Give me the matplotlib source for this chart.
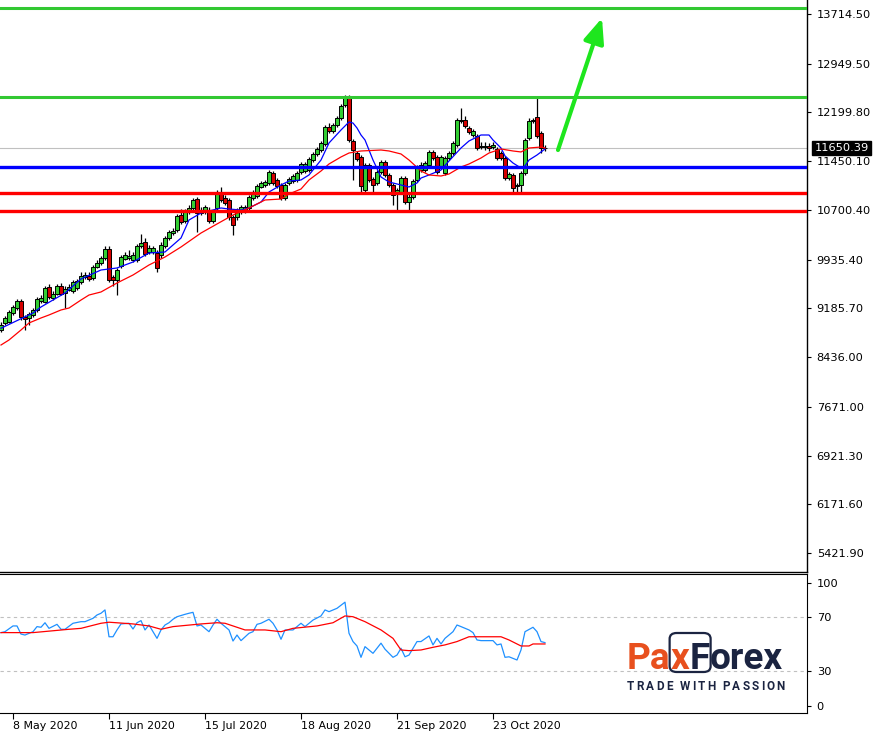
import matplotlib
matplotlib.use("Agg")
import matplotlib.pyplot as plt
from matplotlib.patches import FancyBboxPatch

# daily candles, 5 May 2020 .. 10 Nov 2020 (bar index = position in list)
opens = [8853, 8961, 8976, 9114, 9191, 9299, 9053, 9038, 9084, 9161,
         9299, 9284, 9515, 9345, 9407, 9530, 9422, 9468, 9453, 9499,
         9591, 9668, 9684, 9653, 9822, 9884, 9961, 10099, 9668, 9622,
         9838, 9945, 9961, 9930, 9930, 10145, 10207, 10053, 10053, 10038,
         10007, 10145, 10268, 10345, 10391, 10622, 10530, 10668, 10730, 10868,
         10653, 10668, 10699, 10530, 10730, 10976, 10884, 10853, 10591, 10591,
         10668, 10684, 10730, 10884, 10914, 11053, 11084, 11114, 11268, 11161,
         11084, 10884, 11114, 11145, 11161, 11284, 11299, 11314, 11468, 11561,
         11622, 11715, 11976, 11915, 12007, 12115, 12315, 12438, 11761, 11576,
         11515, 11007, 11391, 11176, 11114, 11284, 11438, 11238, 11084, 10976,
         10976, 11191, 10822, 10899, 11161, 11314, 11314, 11391, 11592, 11515,
         11361, 11268, 11499, 11576, 11699, 12068, 12084, 11961, 11853, 11838,
         11684, 11668, 11684, 11668, 11638, 11576, 11499, 11191, 11238, 11068,
         11084, 11268, 11807, 12068, 12130, 11884, 11653]
highs = [8976, 9068, 9161, 9238, 9330, 9330, 9084, 9130, 9191, 9361,
         9391, 9530, 9561, 9453, 9561, 9576, 9530, 9561, 9622, 9638,
         9745, 9745, 9745, 9853, 9930, 9991, 10145, 10145, 9699, 9807,
         10007, 10053, 10084, 10053, 10176, 10330, 10268, 10161, 10145, 10084,
         10207, 10299, 10391, 10422, 10637, 10714, 10714, 10776, 10884, 10899,
         10745, 10776, 10745, 10699, 11007, 11053, 10930, 10884, 10622, 10730,
         10776, 10776, 10930, 11007, 11099, 11145, 11161, 11314, 11299, 11191,
         11114, 11114, 11207, 11253, 11299, 11438, 11438, 11515, 11592, 11668,
         11761, 12007, 12037, 12037, 12145, 12330, 12468, 12468, 11792, 11607,
         11545, 11422, 11422, 11207, 11314, 11468, 11468, 11268, 11114, 11038,
         11222, 11222, 10945, 11176, 11391, 11438, 11453, 11622, 11622, 11545,
         11545, 11530, 11607, 11761, 12115, 12268, 12145, 11992, 11946, 11868,
         11745, 11745, 11730, 11745, 11668, 11607, 11530, 11284, 11268, 11114,
         11299, 11807, 12115, 12115, 12422, 11915, 11699]
lows = [8822, 8930, 8961, 9084, 9161, 9007, 8853, 8930, 9053, 9130,
        9268, 9268, 9330, 9314, 9391, 9391, 9191, 9453, 9422, 9468,
        9561, 9638, 9607, 9622, 9807, 9853, 9930, 9591, 9530, 9391,
        9807, 9930, 9930, 9899, 9899, 10115, 9991, 10022, 10022, 9745,
        9961, 10115, 10238, 10314, 10361, 10483, 10499, 10637, 10699, 10361,
        10622, 10637, 10499, 10499, 10699, 10822, 10776, 10545, 10314, 10545,
        10637, 10653, 10699, 10853, 10884, 11038, 11053, 11084, 11084, 11038,
        10853, 10853, 11084, 11114, 11130, 11253, 11268, 11284, 11438, 11530,
        11592, 11684, 11884, 11884, 11976, 12084, 12284, 11745, 11161, 11453,
        10976, 10976, 11130, 10945, 11084, 11253, 11207, 11053, 10776, 10668,
        10945, 10791, 10668, 10868, 11130, 11284, 11284, 11361, 11468, 11253,
        11330, 11238, 11468, 11545, 11668, 12037, 11961, 11868, 11822, 11622,
        11638, 11622, 11607, 11638, 11468, 11468, 11161, 11161, 10961, 10945,
        10945, 11238, 11776, 12037, 11807, 11576, 11607]
closes = [8930, 9038, 9130, 9207, 9299, 9053, 9022, 9099, 9161, 9330,
          9345, 9499, 9361, 9407, 9530, 9407, 9484, 9515, 9591, 9607,
          9684, 9699, 9638, 9822, 9884, 9961, 10099, 9622, 9622, 9776,
          9976, 10007, 9991, 10007, 10145, 10191, 10022, 10115, 10115, 9807,
          10161, 10268, 10361, 10376, 10607, 10514, 10684, 10730, 10853, 10653,
          10699, 10745, 10530, 10668, 10961, 10853, 10807, 10591, 10468, 10699,
          10745, 10745, 10899, 10976, 11068, 11114, 11130, 11284, 11114, 11068,
          10884, 11084, 11176, 11222, 11268, 11407, 11407, 11484, 11561, 11638,
          11730, 11976, 11915, 12007, 12115, 12299, 12422, 11776, 11622, 11484,
          11068, 11391, 11161, 11084, 11284, 11438, 11238, 11084, 10930, 11007,
          11191, 10822, 10899, 11145, 11361, 11391, 11422, 11592, 11499, 11284,
          11515, 11499, 11576, 11730, 12084, 12084, 11992, 11899, 11915, 11653,
          11668, 11684, 11653, 11699, 11499, 11499, 11191, 11253, 11038, 11084,
          11268, 11776, 12068, 12084, 11838, 11653, 11650.39]

# moving averages (bar index, value)
ma_fast_idx = [0, 8, 10, 16, 20, 25, 29, 33, 37, 41, 45, 47, 50, 52, 55, 57, 60, 62, 65, 67,
               70, 72, 75, 77, 80, 82, 85, 87, 88, 89, 90, 91, 92, 93, 95, 97, 100, 102, 104, 105,
               107, 110, 112, 115, 117, 120, 122, 123, 125, 126, 128, 130, 131, 132, 134, 136]
ma_fast = [8880, 9114, 9207, 9422, 9638, 9776, 9807, 9899, 10038, 10053,
           10268, 10545, 10653, 10684, 10730, 10714, 10699, 10730, 10822, 10976,
           11084, 11145, 11161, 11238, 11468, 11730, 11930, 12053, 12037, 11961,
           11853, 11776, 11622, 11468, 11207, 11130, 11084, 11053, 11114, 11191,
           11238, 11314, 11453, 11653, 11761, 11853, 11853, 11776, 11653, 11530,
           11422, 11345, 11376, 11468, 11545, 11638]
ma_slow_idx = [0, 2, 5, 7, 10, 12, 15, 17, 20, 22, 25, 29, 33, 37, 41, 45, 50, 54, 58, 62,
               66, 70, 72, 75, 77, 80, 82, 85, 87, 90, 95, 97, 100, 102, 105, 107, 110, 112, 115, 117,
               120, 122, 125, 128, 130, 132, 135, 136]
ma_slow = [8622, 8699, 8853, 8961, 9038, 9084, 9161, 9191, 9314, 9391,
           9438, 9576, 9699, 9853, 9976, 10130, 10345, 10484, 10622, 10730,
           10853, 10868, 10945, 11022, 11161, 11299, 11407, 11515, 11576, 11607,
           11622, 11607, 11561, 11468, 11299, 11238, 11222, 11253, 11361, 11407,
           11499, 11576, 11638, 11607, 11592, 11653, 11668, 11653]

# RSI panel
rsi_idx = [0, 1, 3, 4, 5, 6, 8, 9, 10, 11, 12, 14, 15, 16, 18, 20, 21, 23, 24, 25,
           26, 27, 28, 29, 30, 32, 33, 34, 35, 36, 37, 39, 40, 41, 42, 43, 44, 46, 47, 48,
           49, 50, 52, 53, 54, 55, 57, 58, 59, 60, 62, 63, 64, 65, 67, 68, 69, 70, 71, 73,
           75, 76, 78, 80, 81, 82, 84, 86, 87, 88, 89, 90, 91, 93, 94, 95, 96, 98, 99, 100,
           101, 102, 104, 105, 107, 108, 109, 110, 111, 112, 113, 114, 115, 117, 118, 119, 120, 122, 123, 124,
           125, 126, 127, 129, 130, 131, 133, 134, 135, 136]
rsi = [58.5, 59.2, 63.5, 63.5, 57.4, 56.7, 59.2, 63.0, 62.5, 65.9,
       61.7, 64.7, 61.0, 61.0, 65.5, 66.7, 66.7, 69.2, 71.7, 73.0,
       75.5, 55.4, 55.4, 60.5, 65.0, 65.5, 61.2, 65.9, 67.5, 60.5,
       64.2, 54.2, 60.5, 64.2, 65.9, 68.5, 70.4, 72.2, 73.0, 73.7,
       63.5, 64.2, 59.2, 64.2, 68.5, 65.5, 60.5, 52.2, 56.7, 52.5,
       58.0, 59.2, 64.7, 65.5, 68.5, 65.5, 60.5, 53.5, 60.5, 60.5,
       65.5, 63.0, 67.9, 71.0, 75.5, 74.2, 76.7, 81.3, 58.0, 51.8,
       48.5, 40.0, 48.0, 43.0, 46.8, 50.6, 46.1, 40.0, 41.7, 46.8,
       40.4, 41.7, 51.8, 51.8, 56.0, 49.3, 54.2, 50.0, 54.2, 56.7,
       59.2, 64.2, 63.0, 60.5, 58.5, 53.0, 52.5, 52.5, 52.5, 49.3,
       50.0, 40.0, 40.4, 38.0, 45.5, 59.2, 62.5, 59.2, 51.8, 51.0]
rsi_ma_idx = [0, 8, 17, 20, 25, 27, 33, 37, 40, 43, 50, 54, 56, 61, 66, 70, 73, 79, 83, 86,
              88, 91, 95, 98, 100, 102, 105, 108, 111, 114, 117, 120, 125, 127, 130, 132, 133, 136]
rsi_ma = [58.5, 58.5, 61.0, 61.7, 65.5, 66.3, 65.0, 63.5, 61.0, 63.0,
          65.0, 65.9, 65.5, 60.5, 60.5, 59.2, 61.7, 63.5, 65.9, 71.0,
          70.4, 66.7, 60.5, 54.2, 45.5, 45.0, 45.5, 47.5, 49.3, 51.8,
          55.4, 55.4, 55.4, 53.0, 48.5, 48.5, 50.0, 50.0]

# drawn levels and arrow
resistance = [13806.8, 12437.5]
pivot = 11360.6
support = [10960.6, 10683.6]
arrow_from = (139.25, 11622)
arrow_to = (150.25, 13653)

price_ticks = [13714.50, 12949.50, 12199.80, 11450.10, 10700.40, 9935.40,
               9185.70, 8436.00, 7671.00, 6921.30, 6171.60, 5421.90]
date_idx = [3, 27, 51, 75, 99, 123]
date_labels = ["8 May 2020", "11 Jun 2020", "15 Jul 2020", "18 Aug 2020",
               "21 Sep 2020", "23 Oct 2020"]
# MT4 keeps the 100 / 0 captions inside the window
rsi_tick_pos = [95.7, 70, 30, 3.6]
rsi_tick_labels = ["100", "70", "30", "0"]

W, H = 879, 734
fig = plt.figure(figsize=(W / 100, H / 100), dpi=100)
plt.rcParams['font.family'] = 'DejaVu Sans'


def px_axes(left, top, right, bottom):
    return fig.add_axes([left / W, 1 - bottom / H, (right - left) / W, (bottom - top) / H])


ax = px_axes(0, 0, 807, 571.5)
ax2 = px_axes(0, 574, 807, 713)

x_range = (-0.25, 201.5)

# --- price panel ---
n = len(closes)
idx = list(range(n))
up = '#32cd32'
down = '#d40000'
colors = [up if c >= o else down for o, c in zip(opens, closes)]
bottoms = [min(o, c) for o, c in zip(opens, closes)]
heights = [abs(c - o) for o, c in zip(opens, closes)]

ax.axhline(closes[-1], color='#c0c0c0', lw=0.8, zorder=1)
ax.vlines(idx, lows, highs, color='black', lw=0.9, zorder=2)
ax.bar(idx, heights, bottom=bottoms, width=0.78, color=colors,
       edgecolor='black', linewidth=0.7, zorder=3)
ax.plot(ma_fast_idx, ma_fast, color='#0000ff', lw=0.9, zorder=4)
ax.plot(ma_slow_idx, ma_slow, color='#ff0000', lw=0.9, zorder=4)

for lvl in resistance:
    ax.axhline(lvl, color='#32c832', lw=2.2, zorder=5)
ax.axhline(pivot, color='#0000ff', lw=2.4, zorder=5)
for lvl in support:
    ax.axhline(lvl, color='#ff0000', lw=2.4, zorder=5)

ax.annotate('', xy=arrow_to, xytext=arrow_from,
            arrowprops=dict(arrowstyle='-|>,head_length=0.6,head_width=0.25',
                            color='#1ee61e', lw=3, mutation_scale=25,
                            shrinkA=0, shrinkB=0), zorder=6)

ax.set_xlim(*x_range)
ax.set_ylim(5137.4, 13929.9)
ax.set_xticks([])
ax.yaxis.tick_right()
ax.set_yticks(price_ticks)
ax.set_yticklabels([f"{t:.2f}" for t in price_ticks])
ax.tick_params(axis='y', length=3, width=0.8, labelsize=8.2, pad=4, colors='black')
for s in ['left', 'top']:
    ax.spines[s].set_visible(False)
ax.spines['right'].set_linewidth(1.0)
ax.spines['bottom'].set_linewidth(1.0)

ax.annotate(f"{closes[-1]:.2f}", xy=(1, closes[-1]), xycoords=('axes fraction', 'data'),
            xytext=(5.5, 0), textcoords='offset points', va='center', ha='left',
            fontsize=8.2, color='white', annotation_clip=False,
            bbox=dict(boxstyle='square,pad=0.2', fc='black', ec='black'))

# --- RSI panel ---
ax2.axhline(70, color='#c0c0c0', lw=0.8, ls=(0, (3, 3)))
ax2.axhline(30, color='#c0c0c0', lw=0.8, ls=(0, (3, 3)))
ax2.plot(rsi_idx, rsi, color='#1e90ff', lw=0.9)
ax2.plot(rsi_ma_idx, rsi_ma, color='#ff0000', lw=0.9)
ax2.set_xlim(*x_range)
ax2.set_ylim(-1.7, 102.4)
ax2.yaxis.tick_right()
ax2.set_yticks(rsi_tick_pos)
ax2.set_yticklabels(rsi_tick_labels)
ax2.tick_params(axis='y', length=3, width=0.8, labelsize=8.2, pad=4)
ax2.set_xticks(date_idx)
ax2.set_xticklabels(date_labels)
ax2.tick_params(axis='x', length=4, width=0.8, labelsize=7.9, pad=2)
for lab in ax2.get_xticklabels():
    lab.set_ha('left')
ax2.spines['left'].set_visible(False)

# --- logo ---
orange = '#e8501e'
navy = '#1b2441'
renderer = fig.canvas.get_renderer()


def fx(x):
    return x / W


def fy(y):
    return 1 - y / H


logo_parts = [("Pa", orange), ("x", orange), ("F", navy), ("orex", navy)]
fs = 26
texts = []
x = 627
for s, col in logo_parts:
    t = fig.text(fx(x), fy(669), s, color=col, fontsize=fs, fontweight='bold',
                 family='Roboto', va='baseline')
    bb = t.get_window_extent(renderer)
    x += bb.width
    texts.append(t)
scale = (783 - 627) / (x - 627)
x = 627
edges = []
for t in texts:
    t.set_fontsize(fs * scale)
    t.set_x(fx(x))
    bb = t.get_window_extent(renderer)
    edges.append((x, x + bb.width))
    x += bb.width
bx0, bx1 = edges[1][0] - 1, edges[2][1] + 1
fig.patches.append(FancyBboxPatch((fx(bx0), fy(672)), fx(bx1 - bx0), (672 - 633) / H,
                                  boxstyle='round,pad=0,rounding_size=0.008',
                                  transform=fig.transFigure, fill=False, ec=navy, lw=1.6))

slogan = "TRADE WITH PASSION"
chars = []
for ch in slogan:
    t = fig.text(0, fy(686), ch, color=navy, fontsize=8.5, fontweight='bold',
                 family='Roboto', va='center')
    chars.append(t)
widths = [t.get_window_extent(renderer).width if ch != ' ' else 3 for t, ch in zip(chars, slogan)]
gap = (785 - 627 - sum(widths)) / (len(slogan) - 1)
x = 627
for t, w in zip(chars, widths):
    t.set_x(fx(x))
    x += w + gap

fig.savefig("out.png", dpi=100)
